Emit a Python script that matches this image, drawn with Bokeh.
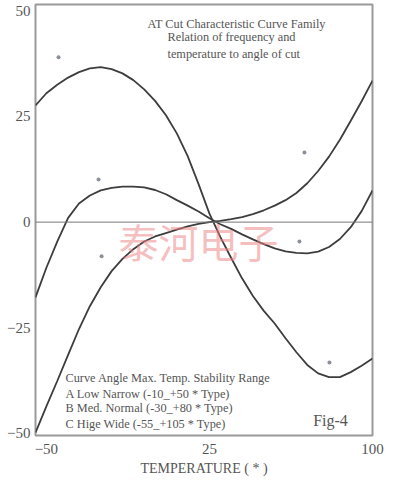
from bokeh.plotting import figure
from bokeh.models import FixedTicker, Span, Label
from bokeh.embed import file_html
from bokeh.resources import INLINE

# Temperature samples (deg C)
temps = [-55, -50, -45, -40, -35, -30, -25, -20, -15, -10, -5, 0, 5, 10, 15, 20,
         25, 30, 35, 40, 45, 50, 55, 60, 65, 70, 75, 80, 85, 90, 95, 100]

# Curve A (low / narrow)
curve_a = [-49.8, -43.6, -37.6, -31.4, -25.3, -19.9, -15.4, -11.6, -8.7, -6.4, -4.6,
           -3.4, -2.6, -1.8, -1.0, -0.4, 0.0, 0.3, 0.7, 1.2, 1.9, 2.8, 3.9, 5.2, 6.9,
           9.2, 12.1, 15.5, 19.5, 24.0, 28.6, 33.5]
# Curve B (medium / normal)
curve_b = [-17.8, -10.8, -4.6, 1.0, 4.4, 6.3, 7.5, 8.1, 8.4, 8.4, 8.2, 7.6, 6.6, 5.2,
           3.9, 2.5, 0.9, -0.5, -1.6, -2.9, -4.1, -5.2, -6.2, -6.9, -7.3, -7.4, -7.0,
           -5.9, -4.0, -1.2, 2.6, 7.5]
# Curve C (high / wide)
curve_c = [27.6, 30.5, 32.5, 34.2, 35.5, 36.4, 36.7, 36.2, 35.2, 33.6, 31.4, 28.7,
           25.3, 21.0, 15.6, 9.0, 2.0, -3.5, -8.5, -13.3, -17.5, -21.0, -24.0, -27.5,
           -30.8, -33.8, -35.8, -36.7, -36.7, -35.5, -34.0, -32.3]

# Small marker dots
marker_t = [-44.4, -26.0, -24.6, 68.7, 66.4, 80.2]
marker_v = [39.0, 10.1, -8.1, 16.5, -4.6, -33.2]

x_ticks = [-50, 25, 100]
y_ticks = [-50, -25, 0, 25, 50]

title_lines = ["AT Cut Characteristic Curve Family",
               "Relation of frequency and",
               "temperature to angle of cut"]
legend_lines = ["Curve Angle Max. Temp. Stability Range",
                "A Low Narrow (-10_+50 * Type)",
                "B Med. Normal (-30_+80 * Type)",
                "C Hige Wide (-55_+105 * Type)"]

SERIF = "Liberation Serif"
TXT = "#555555"
LINE = "#3d3d3d"

p = figure(width=388, height=480, x_range=(-55, 100), y_range=(-50.5, 51.5),
           output_backend="svg", toolbar_location=None,
           min_border_left=35, min_border_right=16, min_border_top=4, min_border_bottom=45,
           x_axis_label="TEMPERATURE ( * )")

p.xgrid.visible = False
p.ygrid.visible = False
p.background_fill_color = "white"
p.border_fill_color = "white"
p.outline_line_color = "#9a9a9a"
p.outline_line_width = 2

for ax in (p.xaxis[0], p.yaxis[0]):
    ax.axis_line_color = None
    ax.major_tick_line_color = None
    ax.minor_tick_line_color = None
    ax.major_tick_out = 0
    ax.major_tick_in = 0
    ax.minor_tick_out = 0
    ax.major_label_text_font = SERIF
    ax.major_label_text_font_size = "15px"
    ax.major_label_text_color = TXT
    ax.axis_label_text_font = SERIF
    ax.axis_label_text_font_style = "normal"
    ax.axis_label_text_font_size = "14px"
    ax.axis_label_text_color = TXT

p.xaxis.ticker = FixedTicker(ticks=x_ticks)
p.yaxis.ticker = FixedTicker(ticks=y_ticks)
p.xaxis.major_label_standoff = 8
p.yaxis.major_label_standoff = 5
p.xaxis.axis_label_standoff = 4

p.add_layout(Span(location=0, dimension="width", line_color="#777777", line_width=1))

# watermark
p.add_layout(Label(x=20.0, y=-4.4, text="泰河电子", text_font="Noto Sans CJK SC",
                   text_font_size="40px", text_color="#ec7f7f", text_alpha=0.5,
                   text_align="center", text_baseline="middle"))

for ys in (curve_a, curve_b, curve_c):
    p.line(temps, ys, line_color=LINE, line_width=1.8)

p.scatter(marker_t, marker_v, marker="circle", size=4, fill_color="#8a8f9a",
          line_color=None)

for i, t in enumerate(title_lines):
    p.add_layout(Label(x=-3.5 if i == 0 else 5.7, y=[47.0, 43.7, 39.9][i], text=t,
                       text_font=SERIF, text_font_size="12.3px", text_color=TXT,
                       text_baseline="middle"))

for i, t in enumerate(legend_lines):
    p.add_layout(Label(x=-41.2, y=[-37.0, -40.6, -44.1, -47.7][i], text=t,
                       text_font=SERIF, text_font_size="12.3px", text_color=TXT,
                       text_baseline="middle"))

p.add_layout(Label(x=80.7, y=-47.0, text="Fig-4", text_font=SERIF,
                   text_font_size="16px", text_color=TXT, text_align="center",
                   text_baseline="middle"))

open("out.html", "w").write(file_html(p, INLINE))
